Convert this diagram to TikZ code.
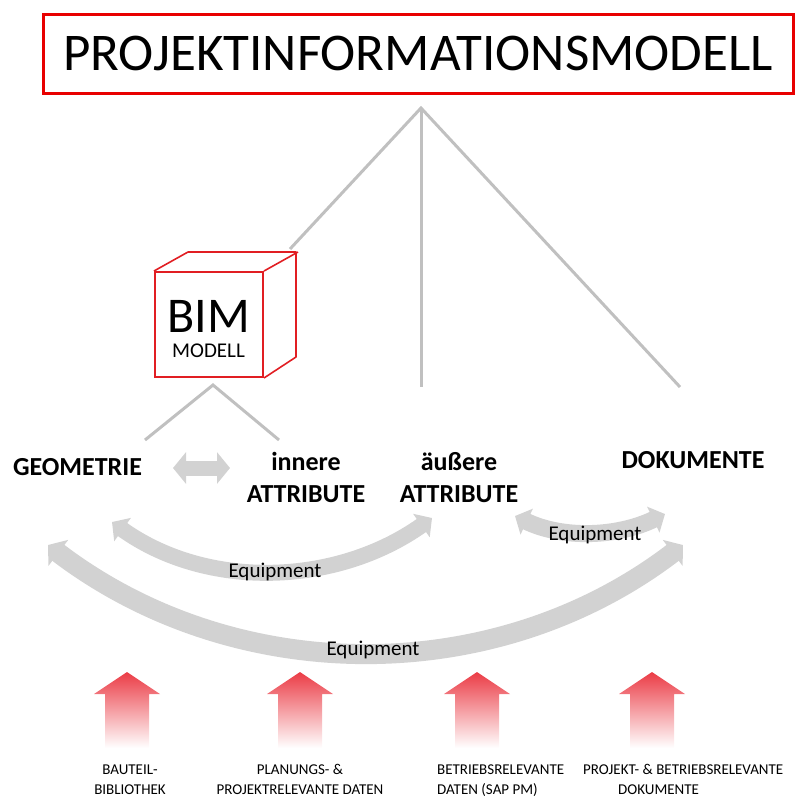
\documentclass[tikz,border=0pt]{standalone}
\usepackage{fontspec}
\setmainfont{Carlito}
\usetikzlibrary{arrows.meta}

\definecolor{boxred}{RGB}{232,0,0}
\definecolor{cubered}{RGB}{225,30,35}
\definecolor{arrred}{RGB}{235,60,70}
\definecolor{linegray}{RGB}{192,192,192}
\definecolor{bandgray}{RGB}{210,210,210}

\begin{document}
\begin{tikzpicture}[x=1pt,y=-1pt,
    conn/.style={linegray,line width=3pt},
    band/.style 2 args={bandgray,line width=#1,
      {Triangle[width=#2,length=13pt]}-{Triangle[width=#2,length=13pt]}},
    toplabel/.style={inner sep=0pt,anchor=base,align=center,
      font=\bfseries\fontsize{26}{32}\selectfont},
    eqlabel/.style={inner sep=0pt,anchor=base,font=\fontsize{21}{24}\selectfont},
    srclabel/.style={inner sep=0pt,anchor=base,align=center,
      font=\fontsize{15}{19.5}\selectfont},
    srcarrow/.style={top color=arrred,middle color=arrred!75,bottom color=white}]
  \useasboundingbox (0,0) rectangle (799,798);

  % Title box
  \node[draw=boxred,line width=3pt,minimum width=750pt,minimum height=79pt,
    inner sep=0pt,text height=33pt,text depth=0pt,
    font=\fontsize{53}{60}\selectfont] (pim) at (418,53.5) {PROJEKTINFORMATIONSMODELL};

  % Branch lines
  \coordinate (top) at (421,108);
  \coordinate (b1) at (290,249);
  \coordinate (b2) at (421,387);
  \coordinate (b3) at (680,387);
  \draw[conn] (b1) -- (top) -- (b3);
  \draw[conn] (top) -- (b2);

  % BIM cube
  \node[draw=cubered,line width=2pt,fill=white,minimum width=108pt,
    minimum height=105pt,inner sep=0pt] (bim) at (209,324.5) {};
  \draw[cubered,line width=1.6pt,line join=round] (bim.north west) -- ++(34,-19)
    -- ++(108,0) -- ++(0,105) -- (bim.south east)
    (bim.north east) -- ++(34,-19);
  \node[anchor=base west,inner sep=0pt,align=left,
    font=\fontsize{21}{25}\selectfont] (bimtxt) at (167,357)
    {{\fontsize{50}{50}\selectfont BIM}\\\hspace*{5pt}MODELL};

  % Lines below the cube
  \coordinate (m0) at (213,385);
  \coordinate (m1) at (145,440);
  \coordinate (m2) at (279,440);
  \draw[conn] (m1) -- (m0) -- (m2);

  % Parts of the model
  \node[toplabel] (geo) at (77.5,475) {GEOMETRIE};
  \node[toplabel] (inner) at (306,502) {innere\\ATTRIBUTE};
  \node[toplabel] (outer) at (459,502) {äußere\\ATTRIBUTE};
  \node[toplabel] (doc) at (693,468) {DOKUMENTE};

  % Double arrow
  \coordinate (d1) at (173,468);
  \coordinate (d2) at (230,468);
  \draw[band={15pt}{31pt}] (d1) -- (d2);

  % Curved arrows
  \coordinate (a1) at (112,522);
  \coordinate (a2) at (432,518);
  \coordinate (c1) at (48,545);
  \coordinate (c2) at (683,545);
  \coordinate (e1) at (515,516);
  \coordinate (e2) at (665,514);
  \draw[band={16pt}{28pt}] (a1) .. controls (207,590) and (336,586) .. (a2);
  \draw[band={20pt}{32pt}] (c1) .. controls (236,688) and (496,688) .. (c2);
  \draw[band={17pt}{28pt}] (e1) .. controls (563,539) and (617,537) .. (e2);
  \node[eqlabel] (eq1) at (275,577) {Equipment};
  \node[eqlabel] (eq2) at (595,540) {Equipment};
  \node[eqlabel] (eq3) at (373,655) {Equipment};

  % Source arrows
  \foreach \x in {127,300,477,652}
    \shade[srcarrow] (\x-33,694) -- (\x,672) -- (\x+33,694) -- (\x+22,694)
      -- (\x+22,748) -- (\x-22,748) -- (\x-22,694) -- cycle;

  % Sources
  \node[srclabel] (src1) at (130,794) {BAUTEIL-\\BIBLIOTHEK};
  \node[srclabel] (src2) at (300,794) {PLANUNGS- \&\\PROJEKTRELEVANTE DATEN};
  \node[srclabel,anchor=base west,align=left] (src3) at (437,794) {BETRIEBSRELEVANTE\\DATEN (SAP PM)};
  \node[srclabel,anchor=base west,align=left] (src4) at (583,794) {PROJEKT- \& BETRIEBSRELEVANTE\\\hspace*{35pt}DOKUMENTE};
\end{tikzpicture}
\end{document}
